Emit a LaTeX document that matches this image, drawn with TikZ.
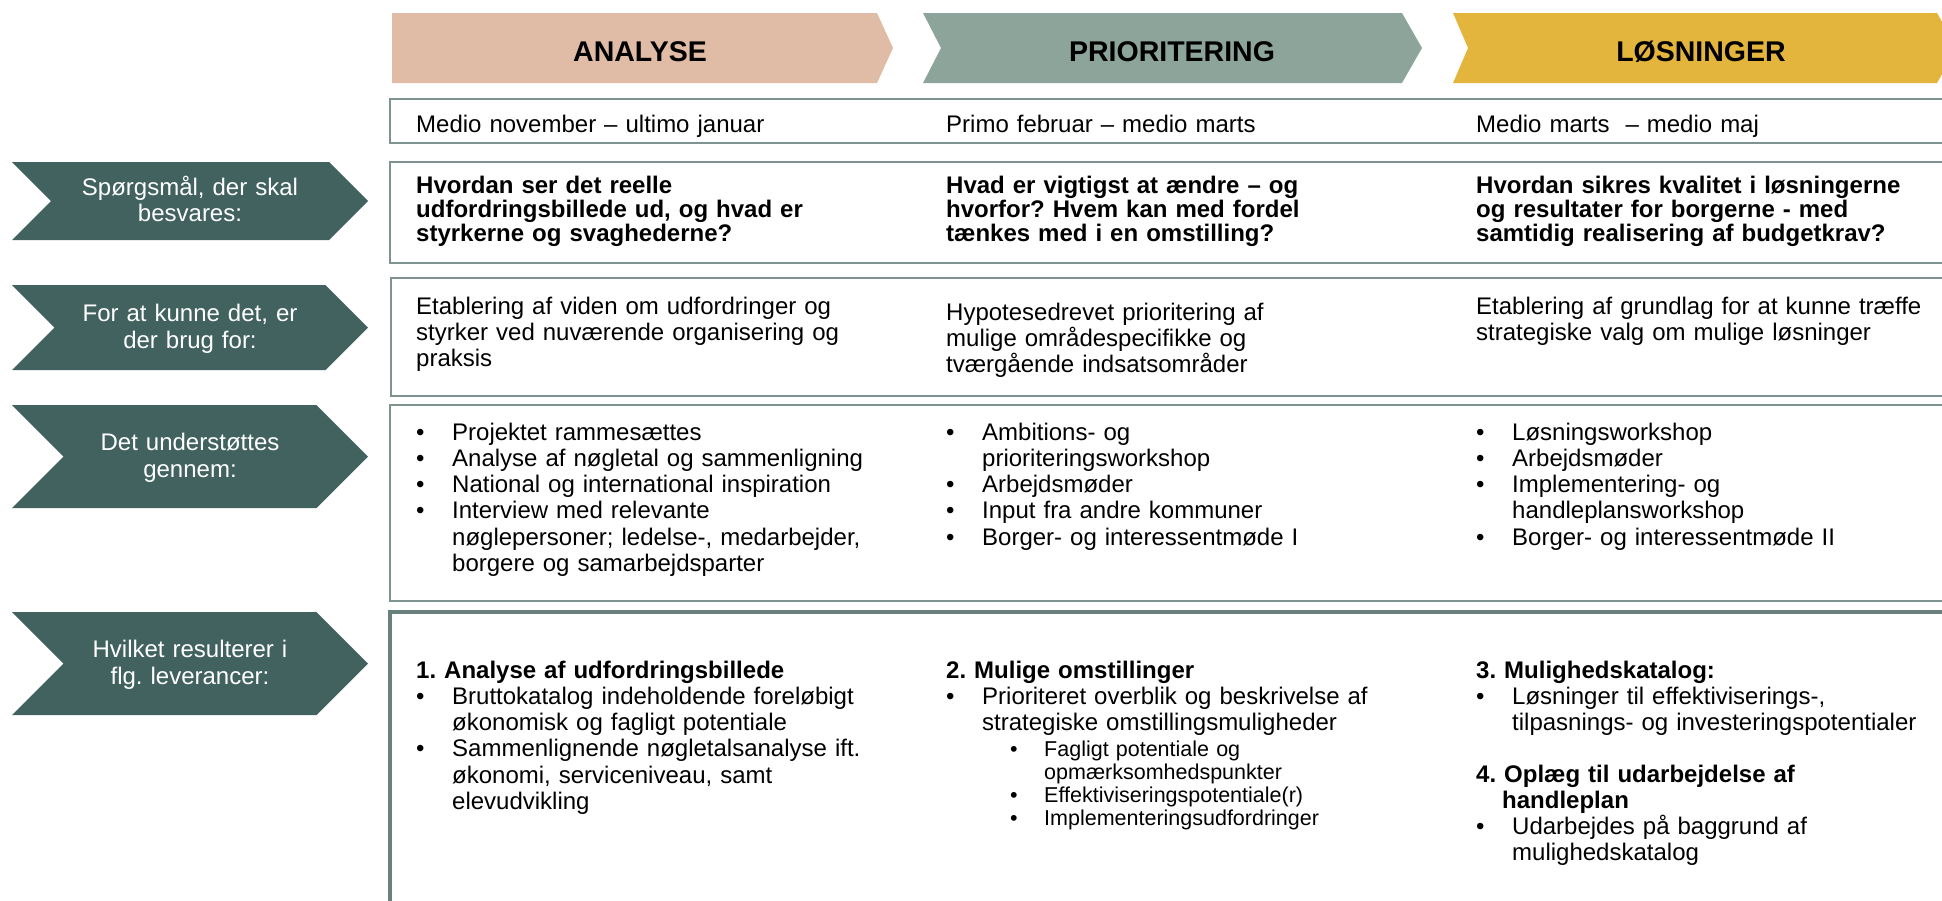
\documentclass[tikz,border=0pt]{standalone}
\usepackage{fontspec}
\setmainfont{Liberation Sans}
\frenchspacing

\definecolor{anafill}{HTML}{E0BBA5}
\definecolor{prifill}{HTML}{8CA49A}
\definecolor{losfill}{HTML}{E3B53C}
\definecolor{sidefill}{HTML}{41625F}
\definecolor{rowline}{HTML}{7F9490}
\definecolor{outline}{HTML}{6A807C}

% bullet lines and their continuation lines
\newcommand\bl[1]{\makebox[36pt][l]{•}#1}
\newcommand\ind[1]{\hspace*{36pt}#1}
\newcommand\sbl[1]{\makebox[34pt][l]{•}#1}
\newcommand\sind[1]{\hspace*{34pt}#1}

\tikzset{
  rowbox/.style={draw=rowline, line width=1.5pt},
  sidetext/.style={text=white, text width=300pt, align=center, inner sep=0pt,
    anchor=base, font=\fontsize{24}{26.5}\selectfont},
  headtext/.style={inner sep=0pt, anchor=base, font=\fontsize{28.5}{30}\selectfont\bfseries},
  cell/.style={anchor=base west, inner sep=0pt, text width=500pt, align=left,
    font=\fontsize{24}{26.3}\selectfont},
  qcell/.style={cell, font=\fontsize{24}{24.3}\selectfont\bfseries},
  subcell/.style={cell, font=\fontsize{21.5}{23}\selectfont},
}

\begin{document}
\begin{tikzpicture}[x=1pt, y=-1pt]
\useasboundingbox (0,0) rectangle (1942,900);

% phase arrows on top
\fill[anafill] (392,13) -- (877,13) -- (893,48) -- (877,83) -- (392,83) -- cycle;
\fill[prifill] (923,13) -- (1402,13) -- (1422,48) -- (1402,83) -- (923,83) -- (941,48) -- cycle;
\fill[losfill] (1453,13) -- (1937,13) -- (1957,48) -- (1937,83) -- (1453,83) -- (1468,48) -- cycle;
\node[headtext] (head-ana) at (640,61) {ANALYSE};
\node[headtext] (head-pri) at (1172,61) {PRIORITERING};
\node[headtext] (head-los) at (1701,61) {LØSNINGER};

% row frames, open to the right
\draw[rowbox] (390,99) rectangle (1960,143);
\draw[rowbox] (390,162) rectangle (1960,263);
\draw[rowbox] (391,278) rectangle (1960,396);
\draw[rowbox] (390,405) rectangle (1960,601);
\draw[outline, line width=4pt] (389.5,611.5) rectangle (1960,930);

% side arrows
\foreach \n/\t/\b/\txt in {q/162/240/{Spørgsmål, der skal\\besvares:},
    need/285/370/{For at kunne det, er\\der brug for:},
    via/405/508/{Det understøttes\\gennem:},
    out/612/715/{Hvilket resulterer i\\flg. leverancer:}}{
  \pgfmathsetmacro\d{(\b-\t)/2}
  \pgfmathsetmacro\c{(\t+\b)/2}
  \fill[sidefill] (12,\t) -- (368-\d,\t) -- (368,\c) -- (368-\d,\b) -- (12,\b) -- (12+\d,\c) -- cycle;
  \node[sidetext] (side-\n) at (190,\c-6) {\txt};
}

% dates
\node[cell] (date-ana) at (416,132) {Medio november – ultimo januar};
\node[cell] (date-pri) at (946,132) {Primo februar – medio marts};
\node[cell] (date-los) at (1476,132) {Medio marts~ – medio maj};

% questions
\node[qcell] (q-ana) at (416,193) {Hvordan ser det reelle\\udfordringsbillede ud, og hvad er\\styrkerne og svaghederne?};
\node[qcell] (q-pri) at (946,193) {Hvad er vigtigst at ændre – og\\hvorfor? Hvem kan med fordel\\tænkes med i en omstilling?};
\node[qcell] (q-los) at (1476,193) {Hvordan sikres kvalitet i løsningerne\\og resultater for borgerne - med\\samtidig realisering af budgetkrav?};

% needs
\node[cell] (need-ana) at (416,314) {Etablering af viden om udfordringer og\\styrker ved nuværende organisering og\\praksis};
\node[cell] (need-pri) at (946,320) {Hypotesedrevet prioritering af\\mulige områdespecifikke og\\tværgående indsatsområder};
\node[cell] (need-los) at (1476,314) {Etablering af grundlag for at kunne træffe\\strategiske valg om mulige løsninger};

% supported by
\node[cell] (via-ana) at (416,440) {\bl{Projektet rammesættes}\\\bl{Analyse af nøgletal og sammenligning}\\\bl{National og international inspiration}\\\bl{Interview med relevante}\\\ind{nøglepersoner; ledelse-, medarbejder,}\\\ind{borgere og samarbejdsparter}};
\node[cell] (via-pri) at (946,440) {\bl{Ambitions- og}\\\ind{prioriteringsworkshop}\\\bl{Arbejdsmøder}\\\bl{Input fra andre kommuner}\\\bl{Borger- og interessentmøde I}};
\node[cell] (via-los) at (1476,440) {\bl{Løsningsworkshop}\\\bl{Arbejdsmøder}\\\bl{Implementering- og}\\\ind{handleplansworkshop}\\\bl{Borger- og interessentmøde II}};

% deliverables
\node[cell] (out-ana) at (416,678) {\textbf{1. Analyse af udfordringsbillede}\\\bl{Bruttokatalog indeholdende foreløbigt}\\\ind{økonomisk og fagligt potentiale}\\\bl{Sammenlignende nøgletalsanalyse ift.}\\\ind{økonomi, serviceniveau, samt}\\\ind{elevudvikling}};
\node[cell] (out-pri) at (946,678) {\textbf{2. Mulige omstillinger}\\\bl{Prioriteret overblik og beskrivelse af}\\\ind{strategiske omstillingsmuligheder}};
\node[subcell] (out-pri-sub) at (1010,756) {\sbl{Fagligt potentiale og}\\\sind{opmærksomhedspunkter}\\\sbl{Effektiviseringspotentiale(r)}\\\sbl{Implementeringsudfordringer}};
\node[cell] (out-los) at (1476,678) {\textbf{3. Mulighedskatalog:}\\\bl{Løsninger til effektiviserings-,}\\\ind{tilpasnings- og investeringspotentialer}};
\node[cell] (out-plan) at (1476,782) {\textbf{4. Oplæg til udarbejdelse af}\\\hspace*{26pt}\textbf{handleplan}\\\bl{Udarbejdes på baggrund af}\\\ind{mulighedskatalog}};
\end{tikzpicture}
\end{document}
